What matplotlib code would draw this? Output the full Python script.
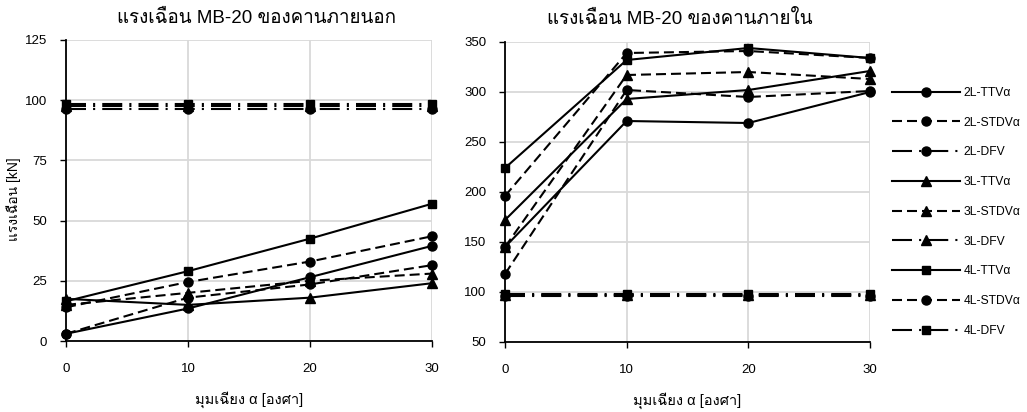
import matplotlib
matplotlib.use("Agg")
import matplotlib.pyplot as plt
from matplotlib import font_manager
from matplotlib.ft2font import FT2Font

# ---- find a font with Thai glyphs ----
thai_font = None
for f in font_manager.fontManager.ttflist:
    try:
        if 0x0E41 in FT2Font(f.fname).get_charmap():
            thai_font = f.name
            break
    except Exception:
        pass
families = ['Liberation Sans']
if thai_font:
    families.append(thai_font)
families.append('DejaVu Sans')
plt.rcParams['font.family'] = families

# ---- data ----
angles = [0, 10, 20, 30]
series_names = ['2L-TTVα', '2L-STDVα', '2L-DFV',
                '3L-TTVα', '3L-STDVα', '3L-DFV',
                '4L-TTVα', '4L-STDVα', '4L-DFV']

outer_2L_TTV = [3, 13.5, 26.5, 39.5]
outer_2L_STDV = [3, 18, 23.5, 31.5]
outer_2L_DFV = [96.5, 96.5, 96.5, 96.5]
outer_3L_TTV = [17.5, 15, 18, 24]
outer_3L_STDV = [15, 20, 25, 28]
outer_3L_DFV = [97.5, 97.5, 97.5, 97.5]
outer_4L_TTV = [16.5, 29, 42.5, 57]
outer_4L_STDV = [14, 24.5, 33, 43.5]
outer_4L_DFV = [98.5, 98.5, 98.5, 98.5]

inner_2L_TTV = [145, 271, 269, 300]
inner_2L_STDV = [118, 302, 295, 301]
inner_2L_DFV = [96, 96, 96, 96]
inner_3L_TTV = [172, 293, 302, 321]
inner_3L_STDV = [145, 317, 320, 313]
inner_3L_DFV = [97, 97, 97, 97]
inner_4L_TTV = [224, 332, 344, 334]
inner_4L_STDV = [196, 339, 341, 334]
inner_4L_DFV = [98, 98, 98, 98]

outer = [outer_2L_TTV, outer_2L_STDV, outer_2L_DFV,
         outer_3L_TTV, outer_3L_STDV, outer_3L_DFV,
         outer_4L_TTV, outer_4L_STDV, outer_4L_DFV]
inner = [inner_2L_TTV, inner_2L_STDV, inner_2L_DFV,
         inner_3L_TTV, inner_3L_STDV, inner_3L_DFV,
         inner_4L_TTV, inner_4L_STDV, inner_4L_DFV]

markers = ['o', 'o', 'o', '^', '^', '^', 's', 'o', 's']
solid = None
dash = (4.8, 2.4)
dfv = (9.6, 3.4, 1.0, 3.4)
styles = [solid, dash, dfv] * 3

title_left = 'แรงเฉือน MB-20 ของคานภายนอก'
title_right = 'แรงเฉือน MB-20 ของคานภายใน'
ylabel = 'แรงเฉือน [kN]'
xlabel = 'มุมเฉียง α [องศา]'

fig = plt.figure(figsize=(10.27, 4.12), dpi=100)
axL = fig.add_axes([66 / 1027, 1 - 341 / 412, 366 / 1027, 301 / 412])
axR = fig.add_axes([505 / 1027, 1 - 342 / 412, 365 / 1027, 300 / 412])

grid_c = '#d9d9d9'


def draw(ax, data, ylim, yticks):
    handles = []
    for vals, mk, st, name in zip(data, markers, styles, series_names):
        ms = 6.5
        if mk == '^':
            ms = 6.8
        if mk == 's':
            ms = 6.3
        line, = ax.plot(angles, vals, color='black', lw=1.5, marker=mk,
                        markersize=ms, markeredgecolor='black',
                        markerfacecolor='black', label=name, clip_on=False,
                        zorder=3)
        if st is not None:
            line.set_dashes(st)
        handles.append(line)
    ax.set_xlim(0, 30)
    ax.set_ylim(*ylim)
    ax.set_xticks(angles)
    ax.set_yticks(yticks)
    ax.grid(True, color=grid_c, lw=1.3, zorder=0)
    ax.set_axisbelow(True)
    for s in ['top', 'right']:
        ax.spines[s].set_visible(False)
    for s in ['left', 'bottom']:
        ax.spines[s].set_color('black')
        ax.spines[s].set_linewidth(1.3)
    ax.tick_params(axis='both', direction='out', length=4.5, width=1,
                   labelsize=9.5, colors='black')
    ax.tick_params(axis='x', pad=11)
    ax.tick_params(axis='y', pad=9)
    ax.set_xlabel(xlabel, fontsize=10.5, labelpad=12)
    return handles


draw(axL, outer, (0, 125), [0, 25, 50, 75, 100, 125])
handles = draw(axR, inner, (50, 350), [50, 100, 150, 200, 250, 300, 350])

axL.set_title(title_left, fontsize=13.5, pad=12, x=0.52)
axR.set_title(title_right, fontsize=13.5, pad=13, x=0.479)
axL.set_ylabel(ylabel, fontsize=10)
axL.yaxis.set_label_coords(-0.123, 0.47)

fig.legend(handles, series_names, loc='upper left',
           bbox_to_anchor=(887 / 1027, 1 - 82 / 412), frameon=False,
           fontsize=8.75, handlelength=5.6, labelspacing=1.46, numpoints=1,
           handletextpad=0.3, borderaxespad=0)

fig.savefig('out.png', dpi=100)
